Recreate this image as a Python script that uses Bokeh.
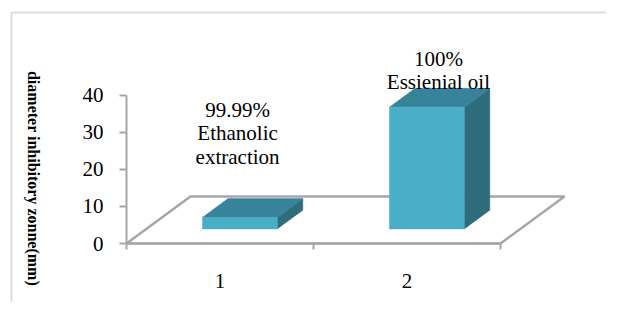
from bokeh.plotting import figure
from bokeh.models import Range1d, FixedTicker, Label, BoxAnnotation, ColumnDataSource
from bokeh.embed import file_html
from bokeh.resources import INLINE
import math

# ---- data ----
categories = ["1", "2"]
values = [3.1, 32.8]
bar_labels = [["99.99%", "Ethanolic", "extraction"], ["100%", "Essienial oil"]]
y_ticks = [0, 10, 20, 30, 40]
y_title = "diameter  inhibitory zonne(mm)"

# ---- geometry (data units) ----
DX, DY = 0.342, 12.66          # full floor depth vector
F0, F1 = 0.31, 0.71            # bar front/back depth fractions
BW = 0.40                      # bar width
centers = [i + 0.5 for i in range(len(categories))]
label_x = [0.594, 1.668]
label_top_y = [36.0, 49.8]
LINE_STEP = 6.3

FONT = "Liberation Serif"
FS = "21px"
W, H = 606, 302
X0_PX, Y0_PX = 126, 243        # pixel position of data origin
PX_X, PX_Y = 187.0, 3.7125     # pixels per data unit

p = figure(width=W, height=H, output_backend="svg", toolbar_location=None,
           x_range=Range1d(-X0_PX / PX_X, (W - X0_PX) / PX_X),
           y_range=Range1d(-(H - Y0_PX) / PX_Y, Y0_PX / PX_Y),
           min_border=0, background_fill_color="white",
           border_fill_color="white")
p.outline_line_color = None
p.grid.visible = False

# outer chart frame (top + left visible)
p.add_layout(BoxAnnotation(left=11, right=900, top=12, bottom=900,
                           left_units="canvas", right_units="canvas",
                           top_units="canvas", bottom_units="canvas",
                           fill_alpha=0, line_color="#8c8c8c", line_width=2))

# floor
n = len(categories)
p.patch([0, n, n + DX, DX], [0, 0, DY, DY], fill_color="white",
        line_color="#a6a6a6", line_width=2.5)

ox0, oy0 = F0 * DX, F0 * DY
ox1, oy1 = F1 * DX, F1 * DY
front = dict(xs=[], ys=[])
top = dict(xs=[], ys=[])
side = dict(xs=[], ys=[])
for c, v in zip(centers, values):
    L, R = c - BW / 2, c + BW / 2
    front["xs"].append([L + ox0, R + ox0, R + ox0, L + ox0])
    front["ys"].append([oy0, oy0, v + oy0, v + oy0])
    top["xs"].append([L + ox0, R + ox0, R + ox1, L + ox1])
    top["ys"].append([v + oy0, v + oy0, v + oy1, v + oy1])
    side["xs"].append([R + ox0, R + ox1, R + ox1, R + ox0])
    side["ys"].append([oy0, oy1, v + oy1, v + oy0])

p.patches("xs", "ys", source=ColumnDataSource(side), fill_color="#2f6d7d", line_color="#2f6d7d", line_width=0.5)
p.patches("xs", "ys", source=ColumnDataSource(top), fill_color="#37839a", line_color="#37839a", line_width=0.5)
p.patches("xs", "ys", source=ColumnDataSource(front), fill_color="#4aaec8", line_color="#4aaec8", line_width=0.5)

# data labels (one label per line)
for lx, ly, lines in zip(label_x, label_top_y, bar_labels):
    for i, line in enumerate(lines):
        p.add_layout(Label(x=lx, y=ly - i * LINE_STEP, text=line,
                           text_font=FONT, text_font_size=FS,
                           text_align="center", text_baseline="middle",
                           text_color="black"))

# y axis
ya = p.yaxis[0]
ya.fixed_location = 0
ya.ticker = FixedTicker(ticks=y_ticks)
ya.bounds = (0, 40)
ya.axis_line_color = "#a6a6a6"
ya.axis_line_width = 2
ya.major_tick_line_color = "#a6a6a6"
ya.major_tick_line_width = 2
ya.major_tick_in = 0
ya.major_tick_out = 7
ya.minor_tick_line_color = None
ya.major_label_standoff = 16
ya.major_label_text_font = FONT
ya.major_label_text_font_size = FS
ya.major_label_text_color = "black"

# x axis
xa = p.xaxis[0]
xa.fixed_location = 0
xa.ticker = FixedTicker(ticks=centers, minor_ticks=list(range(n + 1)))
xa.major_label_overrides = {c: lab for c, lab in zip(centers, categories)}
xa.bounds = (0, n)
xa.axis_line_color = "#a6a6a6"
xa.axis_line_width = 2
xa.major_tick_line_color = None
xa.major_tick_out = 0
xa.major_tick_in = 0
xa.minor_tick_line_color = "#a6a6a6"
xa.minor_tick_line_width = 2
xa.minor_tick_in = 0
xa.minor_tick_out = 6
xa.major_label_standoff = 24
xa.major_label_text_font = FONT
xa.major_label_text_font_size = FS
xa.major_label_text_color = "black"

# y axis title
p.add_layout(Label(x=(33 - X0_PX) / PX_X, y=(Y0_PX - 180) / PX_Y,
                   text=y_title, angle=-math.pi / 2, text_align="center",
                   text_baseline="middle", text_font=FONT,
                   text_font_size="16px", text_font_style="bold",
                   text_color="black"))

open("out.html", "w").write(file_html(p, INLINE))
